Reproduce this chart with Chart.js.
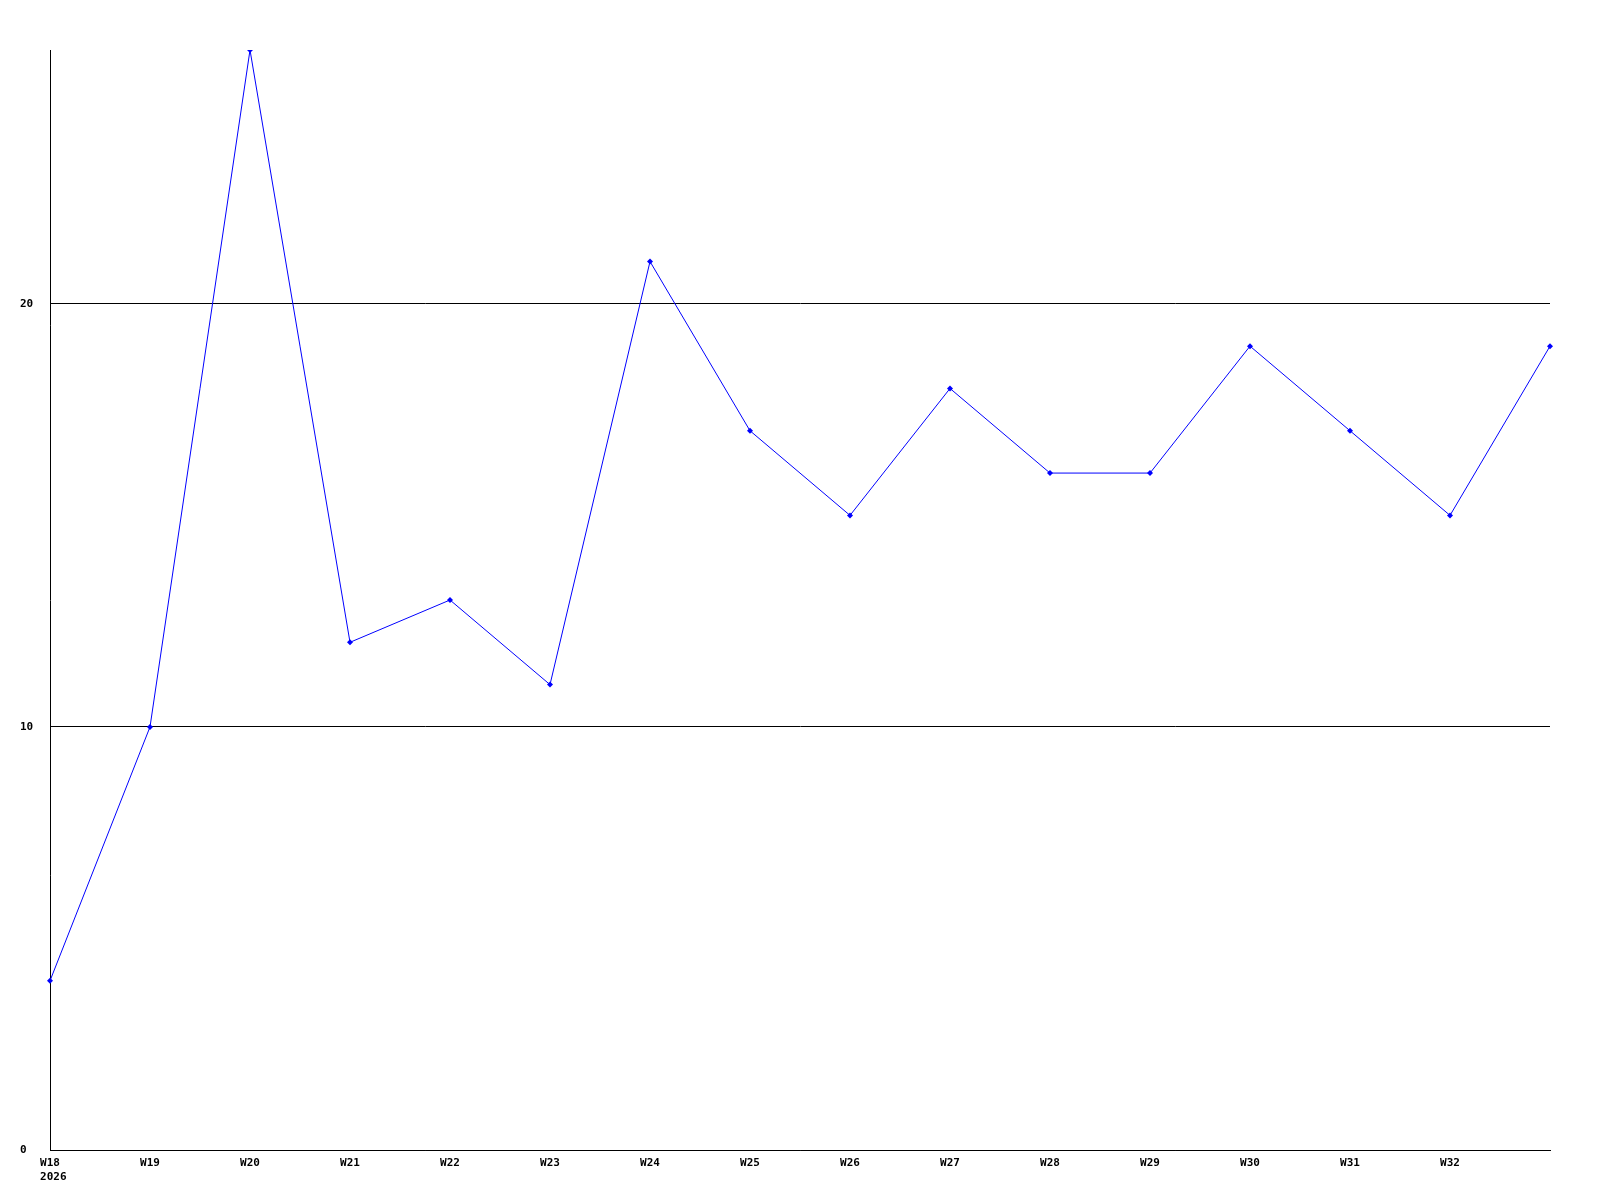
<!DOCTYPE html>
<html>
<head>
<meta charset="utf-8">
<script src="https://cdn.jsdelivr.net/npm/chart.js@4/dist/chart.umd.min.js"></script>
<style>
  html, body { margin: 0; padding: 0; background: #fff; }
  canvas { display: block; }
</style>
</head>
<body>
<canvas id="grafico" width="1600" height="1200"></canvas>
<script>
// semanas e valores
const semanas = ['W18', 'W19', 'W20', 'W21', 'W22', 'W23', 'W24', 'W25',
                 'W26', 'W27', 'W28', 'W29', 'W30', 'W31', 'W32', 'W33'];
const valores = [4, 10, 26, 12, 13, 11, 21, 17, 15, 18, 16, 16, 19, 17, 15, 19];
const anoInicial = '2026';
const ticksY = [0, 10, 20];

const fonte = { family: 'DejaVu Sans Mono', size: 11, weight: 'bold' };

new Chart(document.getElementById('grafico').getContext('2d'), {
    type: 'line',
    data: {
        labels: semanas,
        datasets: [{
            data: valores,
            borderColor: '#0000ff',
            backgroundColor: '#0000ff',
            borderWidth: 1,
            tension: 0,
            pointStyle: 'rectRot',
            pointRadius: 3,
            pointBorderWidth: 0,
            pointHoverRadius: 3
        }]
    },
    options: {
        responsive: false,
        animation: false,
        devicePixelRatio: 1,
        layout: { padding: { left: 20, right: 50, top: 50, bottom: 0 } },
        plugins: { legend: { display: false }, tooltip: { enabled: false } },
        scales: {
            x: {
                offset: false,
                grid: { display: false, drawTicks: false },
                border: { color: '#000', width: 1 },
                ticks: {
                    color: '#000',
                    font: fonte,
                    autoSkip: false,
                    maxRotation: 0,
                    padding: 7,
                    callback: function (val, i) {
                        if (i === semanas.length - 1) return '';
                        if (i === 0) return [semanas[i], ' ' + anoInicial];
                        return semanas[i];
                    }
                },
                afterFit: s => { s.height = 50; }
            },
            y: {
                min: 0,
                max: 26,
                grid: { color: '#000', lineWidth: 1, drawTicks: false },
                border: { color: '#000', width: 1 },
                afterBuildTicks: s => { s.ticks = ticksY.map(v => ({ value: v })); },
                ticks: {
                    color: '#000',
                    font: fonte,
                    crossAlign: 'far',
                    padding: 0
                },
                afterFit: s => { s.width = 30; }
            }
        }
    }
});
</script>
</body>
</html>
